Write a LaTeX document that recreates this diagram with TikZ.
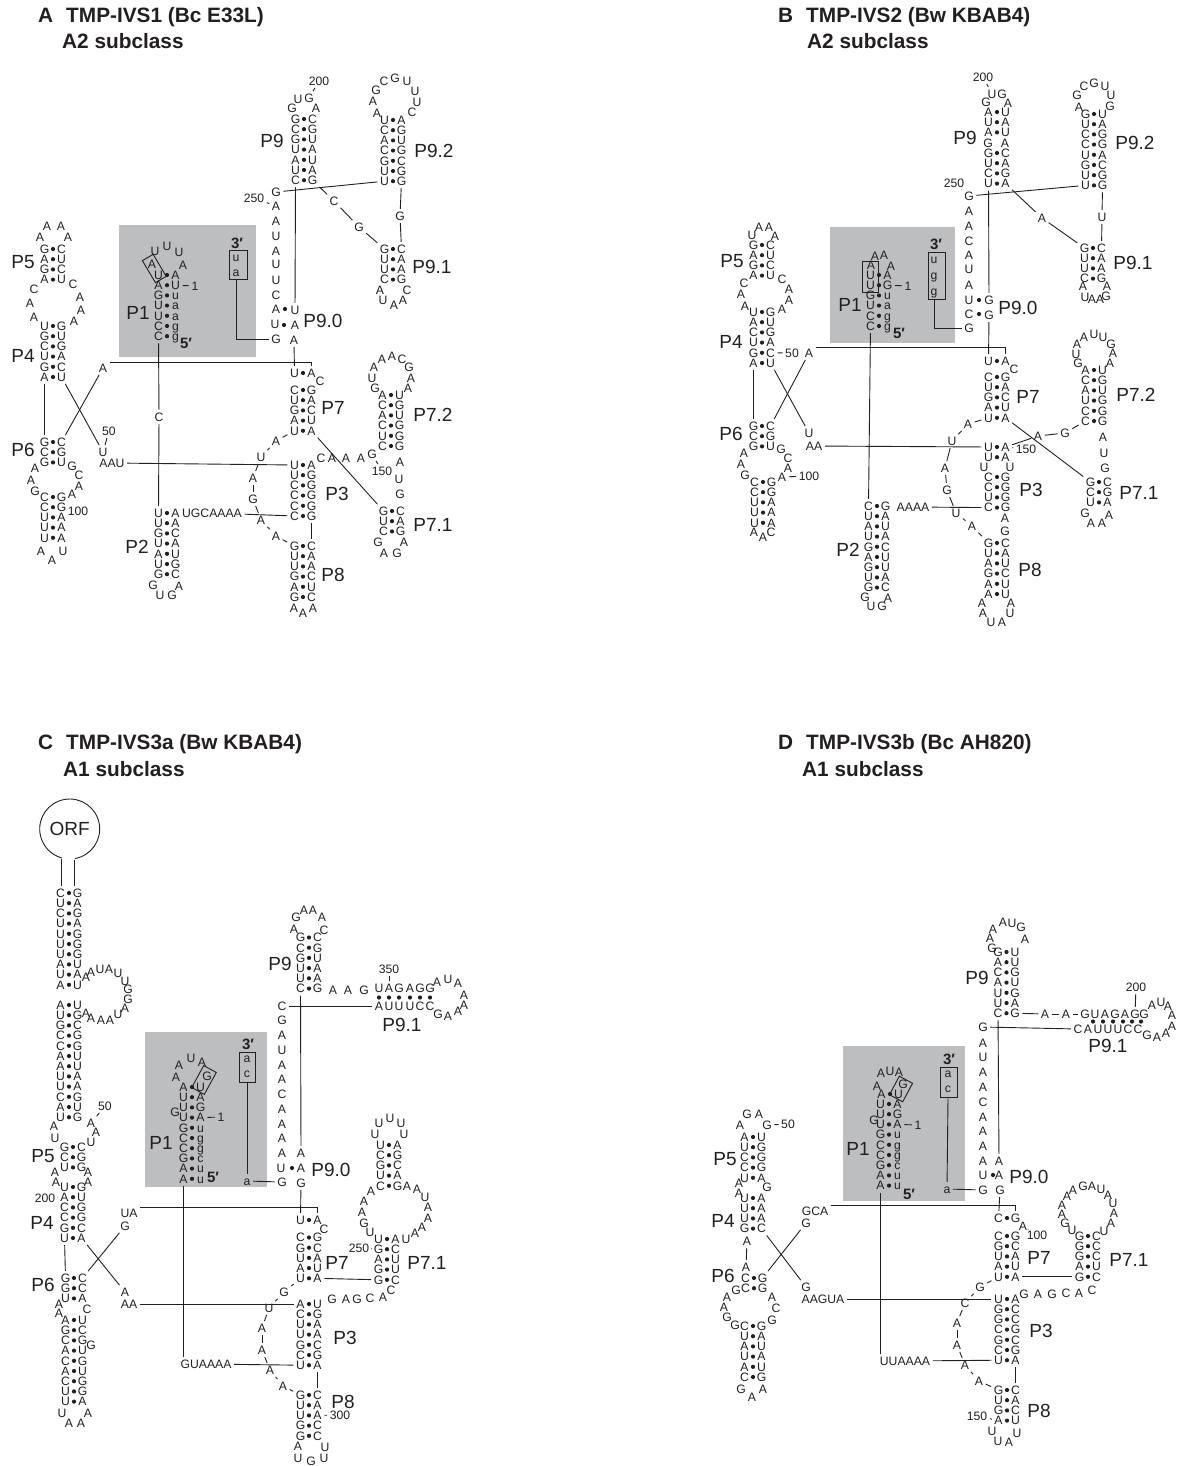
\documentclass[tikz,border=0pt]{standalone}
\usepackage{fontspec}
\setmainfont{Liberation Sans}
\usetikzlibrary{calc}
\definecolor{ink}{HTML}{231F20}
\definecolor{boxgray}{HTML}{BCBEC0}
\tikzset{
  nt/.style={inner sep=1.5pt,text height=8.7pt,text depth=0pt,text=ink,font=\fontsize{12.2}{13}\selectfont},
  lab/.style={inner sep=0pt,text height=13.6pt,text depth=0pt,text=ink,font=\fontsize{19}{20}\selectfont},
  ttl/.style={anchor=west,inner sep=0pt,text=ink,font=\fontsize{20.8}{22}\selectfont\bfseries},
  prm/.style={inner sep=0pt,text=ink,font=\fontsize{15}{16}\selectfont\bfseries},
  link/.style={draw=ink,line width=0.9pt,shorten >=1pt,shorten <=1pt},
  frame/.style={draw=ink,line width=0.9pt,inner sep=0pt},
}
% base pairs, one row under the other
\newcommand{\helix}[4]{%
  \foreach \ntl/\ntr [count=\rw] in {#4}{
    \pgfmathsetmacro{\yy}{#3+(\rw-1)*10.2}
    \node[nt] (#1-\rw l) at (#2-8.5,\yy) {\ntl};
    \node[nt] (#1-\rw r) at (#2+8.5,\yy) {\ntr};
    \fill[ink] (#2,\yy) circle (2.1pt);
  }}
% unpaired letters and numbers
\newcommand{\nts}[2]{%
  \foreach \x/\y/\ltr [count=\rw] in {#2}{
    \node[nt] (#1\rw) at (\x,\y) {\ltr};
  }}
\newcommand{\labs}[1]{%
  \foreach \nm/\x/\y/\tx in {#1}{
    \node[lab] (\nm) at (\x,\y) {\tx};
  }}
\newcommand{\links}[1]{%
  \foreach \a/\b in {#1}{
    \draw[link] (\a) -- (\b);
  }}
\begin{document}
\begin{tikzpicture}[x=1pt,y=-1pt]
  \useasboundingbox (0,0) rectangle (1177,1466);

  % A
  \begin{scope}[name prefix=a-]
    \fill[boxgray] (119,225) rectangle (256,357);
    \node[ttl] (title) at (38,17) {A\hspace{13pt}TMP-IVS1 (Bc E33L)};
    \node[ttl] (sub) at (62,41) {A2 subclass};
    \labs{lp5/23/262/P5,lp4/23/356/P4,lp6/23/450/P6,lp1/138/313/P1,lp2/137/547/P2,lp3/337/494/P3,lp7/333/408/P7,lp8/333/575/P8,lp71/433/525/P7.1,lp72/433/415/P7.2,lp9/272/141/P9,lp90/323/321/P9.0,lp91/432/267/P9.1,lp92/434/151/P9.2}
    \helix{p5}{53}{249}{G/C,A/U,G/C,A/U}
    \helix{p4}{53}{326}{U/G,G/U,C/G,U/A,G/C,A/U}
    \helix{p6}{53}{442}{G/C,C/G,G/U}
    \helix{p6b}{53}{497}{C/G,C/G,U/A,U/A,U/A}
    \helix{p1}{167}{275}{U/A,A/U,G/u,U/a,U/a,C/g,C/g}
    \helix{p2}{167}{513}{U/A,U/A,G/C,U/A,A/U,U/G,G/C}
    \helix{p7t}{303}{373}{U/A}
    \helix{p7}{303}{390}{C/G,U/A,G/C,A/U,U/A}
    \helix{p3}{303}{465}{U/A,U/G,C/G,C/G,C/G,C/G}
    \helix{p8}{303}{546}{G/C,U/A,U/A,G/C,A/U,G/C}
    \helix{p71}{392}{511}{G/C,U/A,C/G}
    \helix{p72}{391}{395}{A/U,C/G,A/U,C/G,U/G,C/G}
    \helix{p9}{304}{119}{G/C,C/G,G/U,U/A,A/U,U/A,C/G}
    \helix{p91}{393}{249}{G/C,U/A,U/A,C/G}
    \helix{p92}{393}{120}{U/A,C/G,A/U,C/G,G/C,U/G,U/G}
    \nts{f}{40/237/A,47/226/A,61/226/A,68/237/A,34/289/C,30/303/A,34/317/A,73/284/C,80/297/A,81/310/A,74/321/A,35/468/A,31/480/A,35/491/G,72/466/G,79/475/C,79/486/A,72/494/A,41/551/A,52/560/A,63/551/U,153/585/G,160/595/U,172/595/G,179/586/A,155/251/U,167/246/U,179/252/U,183/265/A,152/264/A,294/608/A,303/613/A,313/608/A,321/458/C,332/458/A,346/458/A,361/458/A,400/462/A,399/479/U,400/494/G,378/542/G,384/553/A,397/553/G,404/542/A,375/388/G,372/378/U,374/367/A,382/359/A,392/356/A,402/359/C,409/367/G,411/378/A,408/388/A,320/381/C,292/108/G,298/99/U,316/108/A,380/290/A,383/300/U,394/305/A,403/300/A,407/290/C,377/113/A,373/101/A,376/90/G,384/81/C,395/78/G,407/81/U,415/91/U,417/102/U,412/112/C}
    \nts{j}{276/441/A,261/457/U,253/478/A,253/499/G,261/520/A,276/536/A}
    \nts{s}{276/192/G,276/206/A,276/221/A,276/236/U,276/251/A,276/264/U,276/280/U,276/295/C,276/309/A,275/324/U,276/339/G}
    \node[nt] (g1) at (372,454) {G};
    \node[nt] (a1) at (103,368) {A};
    \node[nt] (u50) at (103,452) {U};
    \node[nt] (aau) at (112,463) {AAU};
    \node[nt] (c1) at (159,417) {C};
    \node[nt] (ugc) at (212,513) {UGCAAAA};
    \node[nt] (u90) at (295,310) {U};
    \node[nt] (a90) at (295,325) {A};
    \node[nt] (a91) at (294,340) {A};
    \node[nt] (g9t) at (309,98) {G};
    \node[nt] (c2) at (334,201) {C};
    \node[nt] (g2) at (359,227) {G};
    \node[nt] (g3) at (400,216) {G};
    \fill[ink] (285,309) circle (2.1pt) (284,325) circle (2.1pt);
    \nts{n}{195/286/1,109/431/50,78/511/100,382/471/150,319/81/200,254/198/250}
    \node[prm] (p3m) at (237,243) {3′};
    \node[prm] (p5m) at (186,343) {5′};
    \node[frame,minimum width=18pt,minimum height=29pt] (bx) at (238,264.5) {};
    \node[nt] (bu) at (236,257) {u};
    \node[nt] (ba) at (236,272) {a};
    \node[frame,minimum width=12.5pt,minimum height=25.6pt,rotate=30.6] (bxa) at (154.3,268.5) {};
    \draw[link] (ba.south) |- (s11);
    \links{p4-6l/p6-1l,p4-6r/u50,p6-1r/a1,n2/u50,aau/p3-1l,p1-7l/c1,c1/p2-1l,ugc/p3-6l,p7-5l/j1,j1/j2,j2/j3,j3/j4,j4/j5,j5/j6,j6/p8-1l,p3-6r/p8-1r,p7-5r/p71-1l,n4/g1,a91/p7t-1l,s1/p92-7l,p9-7l/u90,p9-7r/c2,c2/g2,g2/p91-1l,p92-7r/g3,g3/p91-1r,n5/g9t,n6/s2,p1-2r/n1,n3/p6b-2r}
    \draw[link] (a1.north east) -| (p7t-1r);
  \end{scope}

  % B
  \begin{scope}[name prefix=b-]
    \fill[boxgray] (830,227) rectangle (955,343);
    \node[ttl] (title) at (778,17) {B\hspace{13pt}TMP-IVS2 (Bw KBAB4)};
    \node[ttl] (sub) at (807,41) {A2 subclass};
    \labs{lp5/732/261/P5,lp4/731/342/P4,lp6/731/434/P6,lp1/850/305/P1,lp2/848/550/P2,lp3/1031/490/P3,lp7/1028/397/P7,lp8/1030/570/P8,lp71/1139/493/P7.1,lp72/1136/395/P7.2,lp9/965/138/P9,lp90/1018/308/P9.0,lp91/1133/263/P9.1,lp92/1135/143/P9.2}
    \helix{p5}{762}{245}{G/C,A/U,G/C,A/U}
    \helix{p4}{762}{312}{U/G,A/U,C/G,U/A,G/C,A/U}
    \helix{p6}{762}{426}{G/C,C/G,G/U}
    \helix{p6b}{763}{482}{C/G,C/G,U/A,U/A,U/A}
    \helix{p1}{879}{275}{U/A,U/G,G/u,U/a,C/g,C/g}
    \helix{p2}{877}{506}{C/G,U/A,A/U,U/A,G/C,A/U,G/U,U/A,G/C}
    \helix{p7t}{997}{361}{U/A}
    \helix{p7}{997}{377}{C/G,U/A,G/C,A/U,U/A}
    \helix{p3}{997}{447}{U/A,U/A}
    \helix{p3b}{997}{477}{C/G,C/G,U/G,C/G}
    \helix{p8}{997}{543}{G/C,U/A,A/U,G/C,A/U,A/U}
    \helix{p71}{1099}{482}{G/C,C/G,U/A}
    \helix{p72}{1094}{370}{A/U,C/G,A/U,U/G,C/G,C/G}
    \helix{p9}{997}{112}{A/U,U/A,A/U}
    \helix{p9b}{997}{153}{G/C,U/A,C/G,U/A}
    \helix{p91}{1093}{248}{G/C,U/A,U/A,C/G}
    \helix{p92}{1094}{114}{G/U,U/A,C/G,C/G,U/A,G/C,U/G,U/G}
    \nts{f}{752/235/U,759/227/A,769/227/A,775/236/A,744/283/C,741/294/A,745/306/A,782/279/C,789/289/A,789/300/A,782/309/A,744/453/A,741/464/A,745/475/G,781/449/G,788/458/C,788/468/A,754/532/A,763/537/A,771/532/C,875/256/A,884/255/A,891/266/A,871/265/A,865/597/G,871/606/U,882/606/G,888/598/A,984/467/U,1010/467/U,1005/518/A,1005/531/G,982/603/A,983/613/A,991/622/U,1002/622/A,1010/613/U,1011/603/A,1085/513/G,1091/523/A,1102/523/A,1109/515/A,1078/363/G,1076/354/U,1077/344/A,1084/337/A,1094/334/U,1103/337/U,1111/344/G,1113/353/A,1110/363/A,1103/437/A,1104/453/U,1105/468/G,1014/369/C,988/143/G,1005/143/A,986/102/G,1002/94/G,1008/103/A,1083/286/A,1085/297/U,1092/299/A,1100/299/A,1106/296/G,1107/286/A,1079/107/A,1077/95/G,1084/86/C,1094/83/G,1105/86/U,1111/95/U,1110/106/G}
    \nts{j}{968/424/A,952/441/U,945/468/A,947/490/G,956/513/U,972/526/A}
    \nts{s}{969/196/G,969/211/A,969/226/A,969/241/C,969/255/A,969/269/U,969/285/A,969/300/U,969/314/C,969/328/G}
    \node[nt] (a1) at (809,353) {A};
    \node[nt] (u50) at (809,433) {U};
    \node[nt] (aa) at (814,446) {AA};
    \node[nt] (aaaa) at (913,507) {AAAA};
    \node[nt] (a2) at (1038,436) {A};
    \node[nt] (g2) at (1065,433) {G};
    \node[nt] (a3) at (782,477) {A};
    \node[nt] (g90) at (989,300) {G};
    \node[nt] (g91) at (989,315) {G};
    \node[nt] (u9t) at (992,94) {U};
    \node[nt] (a4) at (1042,218) {A};
    \node[nt] (u3) at (1102,217) {U};
    \fill[ink] (979,300) circle (2.1pt) (979,314) circle (2.1pt);
    \nts{n}{908/286/1,792/353/50,809/476/100,1026/449/150,983/77/200,954/183/250}
    \node[prm] (p3m) at (936,244) {3′};
    \node[prm] (p5m) at (899,333) {5′};
    \node[frame,minimum width=17pt,minimum height=47pt] (bx) at (936.5,275.5) {};
    \node[nt] (bu) at (934,259) {u};
    \node[nt] (bg) at (934,275) {g};
    \node[nt] (bh) at (934,291) {g};
    \node[frame,minimum width=16pt,minimum height=31pt] (bxa) at (870,276.5) {};
    \draw[link] (bh |- bx.south) |- (s10);
    \links{p4-6l/p6-1l,p4-6r/u50,p6-1r/a1,aa/p3-1l,p4-5r/n2,n3/a3,p1-6l/p2-1l,aaaa/p3b-4l,p7t-1l/g91,g90/p9b-4l,s1/p92-8l,p9b-4r/a4,a4/p91-1l,p92-8r/u3,u3/p91-1r,p7-5l/j1,j1/j2,j2/j3,j3/j4,j4/j5,j5/j6,j6/p8-1l,p7-5r/p71-1l,p3-1r/n4,p3-1r/a2,a2/g2,g2/p72-6l,n5/u9t,n6/s1,p1-2r/n1}
    \draw[link] (a1.north east) -| (p7t-1r);
  \end{scope}

  % C
  \begin{scope}[name prefix=c-]
    \fill[boxgray] (145,1032) rectangle (267,1187);
    \node[ttl] (title) at (38,744) {C\hspace{13pt}TMP-IVS3a (Bw KBAB4)};
    \node[ttl] (sub) at (63,769) {A1 subclass};
    \labs{lp5/43/1156/P5,lp4/42/1223/P4,lp6/43/1285/P6,lp1/161/1143/P1,lp3/345/1338/P3,lp7/337/1263/P7,lp8/343/1402/P8,lp71/427/1263/P7.1,lp9/280/964/P9,lp90/331/1170/P9.0,lp91/402/1025/P9.1}
    \node[circle,inner sep=0pt,outer sep=0pt,minimum size=60pt,text=ink,font=\fontsize{19}{20}\selectfont] (orf) at (69.7,829) {ORF};
    \draw[draw=ink,line width=0.9pt] (orf.280) arc[start angle=-80,end angle=255,radius=30pt];
    \helix{o}{69}{893}{C/G,U/A,C/G,U/A,U/G,U/G,U/G,A/U,U/A,A/U}
    \helix{ob}{69}{1005}{A/U,U/G,G/C,C/G,C/G,A/U,A/U,U/A,U/A,C/G,A/U,U/G}
    \helix{p5}{73}{1147}{G/C,C/G,U/G}
    \helix{p4}{73}{1187}{U/G,A/U,C/G,C/G,G/C,U/A}
    \helix{p6}{74}{1278}{G/C,G/C,U/A}
    \helix{p6b}{74}{1320}{A/U,G/C,C/G,A/U,C/G,A/U,C/G,U/G,U/A}
    \helix{p1}{192}{1087}{A/U,U/A,U/G,U/A,G/u,C/g,C/g,G/c,A/u,A/u}
    \helix{p9}{309}{937.5}{G/C,C/G,G/U,U/A,U/A,C/G}
    \helix{p7t}{309}{1220}{U/A}
    \helix{p7}{309}{1237.5}{C/G,G/C,U/A,A/U,U/A}
    \helix{p3}{309}{1304}{A/U,C/G,U/A,U/A,G/C,C/G,U/A}
    \helix{p8}{309}{1395}{G/C,U/A,U/A,G/C,G/C}
    \helix{p71}{387}{1239}{U/A,G/C,A/U,G/U,G/C}
    \helix{p71t}{389}{1145}{U/A,C/G,G/C,U/A,C/G}
    \nts{f}{86/977/A,91/972/A,100/969/U,109/969/A,118/973/U,125/981/U,128/989/G,128/999/G,125/1008/A,118/1014/U,110/1020/A,101/1020/A,91/1018/A,86/1013/A,91/1123/A,96/1132/A,91/1142/U,54/1126/A,55/1138/U,55/1172/A,56/1182/A,88/1172/A,88/1182/A,59/1304/A,59/1313/A,87/1309/C,91/1345/G,62/1413/U,69/1423/A,81/1423/A,88/1413/A,179/1065/A,191/1058/U,202/1062/A,176/1077/A,207/1076/G,175/1112/G,294/929/A,296/917/G,304/910/A,313/910/A,322/917/A,324/930/C,333/990/A,348/990/A,364/990/G,437/982/A,448/979/U,458/983/A,464/995/A,464/1005/A,458/1011/A,448/1016/A,438/1014/G,324/1229/C,298/1446/A,325/1447/U,298/1458/U,311/1461/G,324/1458/U,332/1299/G,346/1299/A,357/1299/G,370/1298/C,383/1297/A,391/1290/C,364/1223/G,370/1232/U,362/1212/A,364/1201/A,371/1191/A,407/1186/A,417/1189/A,425/1197/U,428/1207/A,428/1218/A,422/1227/A,415/1233/A,406/1239/U,375/1134/U,379/1123/U,390/1118/U,401/1123/U,404/1134/U}
    \nts{j}{284/1292/G,269/1308/U,262/1328/A,262/1350/A,270/1370/A,283/1386/A}
    \nts{s}{282/1006/C,282/1020/G,282/1035/A,282/1050/U,282/1065/A,282/1079/A,282/1094/C,282/1109/A,282/1124/A,282/1138/A,282/1153/A,281/1168/U,282/1182/G}
    \nts{t}{379/988/U,389/988/A,399/988/G,410/988/A,420/988/G,430/988/G}
    \nts{b}{379/1006/A,389/1006/U,399/1006/U,410/1006/U,420/1006/C,430/1006/C}
    \foreach \x in {379,389,399,410,420,430}{
      \fill[ink] (\x,997.5) circle (2.1pt);
    }
    \node[nt] (ua) at (129,1213) {UA};
    \node[nt] (g1) at (125,1226) {G};
    \node[nt] (a1) at (125,1292) {A};
    \node[nt] (aa) at (129,1304) {AA};
    \node[nt] (gu) at (206,1364) {GUAAAA};
    \node[nt] (a90) at (301,1153) {A};
    \node[nt] (a91) at (301,1168) {A};
    \node[nt] (g91) at (301,1183) {G};
    \node[nt] (a2) at (247,1181) {a};
    \fill[ink] (292,1168) circle (2.1pt);
    \nts{n}{221/1117/1,105/1106/50,45/1198/200,359/1248/250,340/1415/300,389/969/350}
    \node[prm] (p3m) at (248,1044) {3′};
    \node[prm] (p5m) at (213,1177) {5′};
    \node[frame,minimum width=16pt,minimum height=30pt] (bx) at (247,1067) {};
    \node[nt] (ba) at (247,1058) {a};
    \node[nt] (bc) at (247,1073) {c};
    \node[frame,minimum width=14.3pt,minimum height=25pt,rotate=-28.6] (bxa) at (204,1080) {};
    \draw[link] (bc |- bx.south) -- (a2);
    \draw[link] (orf.255) -- (orf.255 |- o-1l.north);
    \draw[link] (orf.280) -- (orf.280 |- o-1r.north);
    \draw[link] (p1-10l.south) -- (p1-10l.south |- gu.north);
    \links{p4-6l/p6-1l,p4-6r/a1,p6-1r/g1,aa/p3-1l,gu/p3-7l,a2/s13,p9-6l/a90,g91/p7t-1l,s1/b1,p7-5r/p71-5l,p3-7r/p8-1r,p7-5l/j1,j1/j2,j2/j3,j3/j4,j4/j5,j5/j6,j6/p8-1l,n2/f15,n3/p4-2l,n4/p71-2l,n5/p8-3r,n6/t2,p1-4r/n1}
    \draw[link] (ua.north east) -| (p7t-1r);
  \end{scope}

  % D
  \begin{scope}[name prefix=d-]
    \fill[boxgray] (843,1046) rectangle (965,1201);
    \node[ttl] (title) at (778,744) {D\hspace{13pt}TMP-IVS3b (Bc AH820)};
    \node[ttl] (sub) at (802,769) {A1 subclass};
    \labs{lp5/725/1159/P5,lp4/723/1221/P4,lp6/723/1276/P6,lp1/858/1149/P1,lp3/1041/1331/P3,lp7/1039/1258/P7,lp8/1039/1411/P8,lp71/1129/1260/P7.1,lp9/977/978/P9,lp90/1029/1177/P9.0,lp91/1108/1046/P9.1}
    \helix{p5}{753}{1137}{A/U,U/G,C/G,C/G,U/A}
    \helix{p4}{753}{1198}{U/A,U/A,U/A,G/C}
    \helix{p6}{754}{1278}{C/G,C/G}
    \helix{p6b}{753}{1326}{C/G,U/A,A/U,U/A,A/U,C/G}
    \helix{p1t}{890}{1094}{A/U}
    \helix{p1}{889}{1104}{U/A,U/G,U/A,G/u,C/g,C/g,G/c,A/u,A/u}
    \helix{p9}{1006.5}{952}{G/U,A/U,C/G,A/U,U/G,U/A,C/G}
    \helix{p7t}{1007}{1218}{C/G}
    \helix{p7}{1007}{1236}{C/G,G/C,U/A,A/U,U/A}
    \helix{p3}{1007}{1299}{U/A,G/C,G/C,C/G,G/C,C/G,U/A}
    \helix{p8}{1007}{1390}{G/C,U/A,G/C,A/U}
    \helix{p71}{1088}{1236}{G/C,G/C,G/C,A/U,G/C}
    \nts{f}{740/1125/A,747/1114/G,759/1114/A,739/1183/A,739/1193/A,767/1187/G,736/1290/G,727/1297/A,724/1307/A,727/1317/G,735/1325/G,772/1297/A,776/1308/C,772/1320/G,741/1389/G,752/1397/A,763/1389/A,881/1073/A,890/1071/U,899/1072/A,877/1086/A,903/1084/G,874/1120/G,993/929/A,990/938/A,992/948/G,1003/922/A,1012/923/U,1021/927/G,1025/939/A,1152/1005/A,1161/1002/U,1168/1006/A,1172/1015/A,1172/1026/A,1166/1033/A,1157/1037/A,1147/1035/G,992/1431/U,998/1441/U,1009/1442/A,1017/1433/U,1024/1294/G,1038/1294/A,1052/1294/G,1066/1293/C,1079/1293/A,1092/1290/C,1072/1230/U,1065/1223/G,1062/1214/A,1062/1205/A,1067/1196/A,1073/1190/A,1083/1186/G,1092/1186/A,1101/1189/U,1108/1195/A,1113/1203/U,1114/1213/A,1111/1223/A,1104/1231/U}
    \nts{j}{980/1287/G,965/1303/C,957/1323/A,957/1345/A,965/1365/A,979/1381/A}
    \nts{s}{983/1027/G,983/1043/A,983/1057/U,983/1072/A,983/1087/A,983/1102/C,983/1117/A,983/1131/A,983/1146/A,983/1161/A,983/1175/U,983/1190/G}
    \nts{t}{1085/1014/G,1095/1014/U,1105/1014/A,1115/1014/G,1125/1014/A,1135/1014/G,1144/1014/G}
    \nts{b}{1078/1029/C,1088/1029/A,1098/1029/U,1108/1029/U,1118/1029/U,1128/1029/C,1138/1029/C}
    \foreach \x in {1093,1103,1113,1123,1132,1141}{
      \fill[ink] (\x,1021.5) circle (2.1pt);
    }
    \node[nt] (g50) at (767,1125) {G};
    \node[nt] (a100) at (1023,1226) {A};
    \node[nt] (a1) at (747,1241) {A};
    \node[nt] (a2) at (746,1267) {A};
    \node[nt] (gca) at (815,1211) {GCA};
    \node[nt] (g1) at (806,1223) {G};
    \node[nt] (g2) at (806,1287) {G};
    \node[nt] (aagua) at (823,1299) {AAGUA};
    \node[nt] (uu) at (905,1361) {UUAAAA};
    \node[nt] (a3) at (1045,1014) {A};
    \node[nt] (a4) at (1066,1014) {A};
    \node[nt] (a90) at (999,1161) {A};
    \node[nt] (a91) at (999,1175) {A};
    \node[nt] (g91) at (1000,1190) {G};
    \node[nt] (a5) at (947,1189) {a};
    \fill[ink] (993,1175) circle (2.1pt);
    \nts{n}{918/1125/1,788/1124/50,1037/1235/100,977/1416/150,1136/987/200}
    \node[prm] (p3m) at (949,1059) {3′};
    \node[prm] (p5m) at (909,1194) {5′};
    \node[frame,minimum width=17pt,minimum height=30pt] (bx) at (948.5,1082) {};
    \node[nt] (ba) at (948,1073) {a};
    \node[nt] (bc) at (948,1088) {c};
    \node[frame,minimum width=15pt,minimum height=21pt,rotate=-28] (bxa) at (901,1089) {};
    \draw[link] (bc |- bx.south) -- (a5);
    \draw[link] (p1-9l.south) -- (p1-9l.south |- uu.north);
    \links{a1/a2,p4-4r/g2,p6-1r/g1,aagua/p3-1l,uu/p3-7l,a5/s12,p9-7l/a90,g91/p7t-1l,s1/b1,p7-5r/p71-5l,p3-7r/p8-1r,p7-5l/j1,j1/j2,j2/j3,j3/j4,j4/j5,j5/j6,j6/p8-1l,p9-7r/a3,a3/a4,a4/t1,g50/n2,n3/a100,n4/p8-4l,n5/t6,p1-3r/n1}
    \draw[link] (gca.north east) -| (p7t-1r);
  \end{scope}
\end{tikzpicture}
\end{document}
